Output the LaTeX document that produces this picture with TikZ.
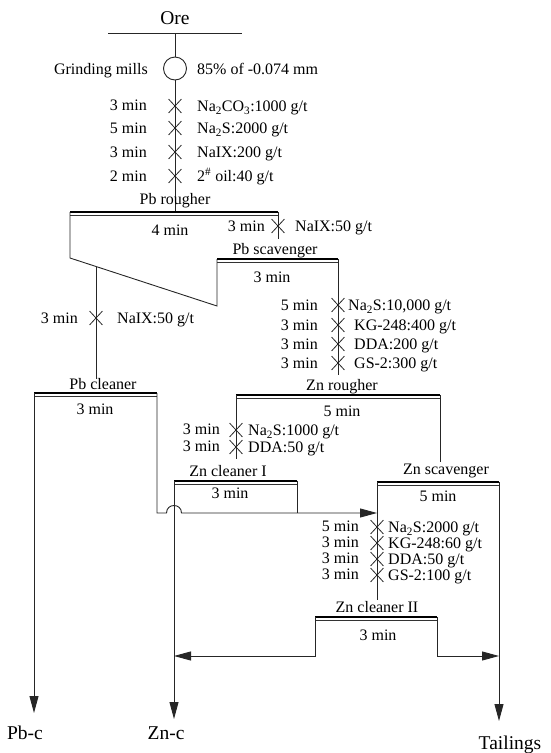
\documentclass[tikz,border=0pt]{standalone}
\usepackage{fontspec}
\setmainfont{Liberation Serif}
\usetikzlibrary{arrows.meta,shapes.misc}
\newcommand\subtwo{\textsubscript{2}}
\begin{document}
\begin{tikzpicture}[x=1pt,y=-1pt,
  t/.style={font=\fontsize{16}{18}\selectfont, inner sep=0pt, anchor=base},
  tl/.style={t, anchor=base west},
  tr/.style={t, anchor=base east},
  big/.style={font=\fontsize{19.5}{22}\selectfont, inner sep=0pt, anchor=base},
  ln/.style={line width=0.9pt, draw=black!85},
  arr/.style={ln, -{Triangle[length=17pt,width=9pt]}},
  xm/.style={cross out, draw=black!85, line width=0.8pt, minimum width=12pt, minimum height=13pt, inner sep=0pt},
  topline/.style={line width=1.8pt, draw=black},
  subline/.style={line width=0.6pt, draw=black!80}]

\useasboundingbox (0,0) rectangle (550,753);

% ---------- Ore and grinding ----------
\node[big] (ore) at (175,24) {Ore};
\coordinate (oreL) at (108,33);
\coordinate (oreR) at (242,33);
\coordinate (oreC) at (175,33);
\draw[ln] (oreL) -- (oreR);
\node[circle, ln, draw, minimum size=23pt, inner sep=0pt] (mill) at (175,68.5) {};
\draw[ln] (oreC) -- (mill.north);
\node[tr] (gm) at (148,74.5) {Grinding mills};
\node[tl] (fine) at (197,74.5) {85\% of -0.074 mm};

\coordinate (prT) at (175,212);
\draw[ln] (mill.south) -- (prT);
\node[xm] (x1) at (175,106) {};
\node[xm] (x2) at (175,128) {};
\node[xm] (x3) at (175,152) {};
\node[xm] (x4) at (175,176) {};
\node[tr] (m1) at (147,110.5) {3 min};
\node[tr] (m2) at (147,133.5) {5 min};
\node[tr] (m3) at (147,157.5) {3 min};
\node[tr] (m4) at (147,181.5) {2 min};
\node[tl] (r1) at (197,111.5) {Na\subtwo CO\textsubscript{3}:1000 g/t};
\node[tl] (r2) at (197,133.5) {Na\subtwo S:2000 g/t};
\node[tl] (r3) at (197,157.5) {NaIX:200 g/t};
\node[tl] (r4) at (197,181.5) {2\textsuperscript{\#} oil:40 g/t};

% ---------- Pb rougher ----------
\node[t] (prlab) at (175,204.5) {Pb rougher};
\coordinate (pr1) at (70,212);
\coordinate (pr2) at (278,212);
\draw[topline] (pr1) -- (pr2);
\draw[subline] ([yshift=-3.5pt]pr1) -- ([yshift=-3.5pt]pr2);
\coordinate (prBL) at (70,258);
\coordinate (psBL) at (217,306);
\coordinate (ps1) at (217,259);
\coordinate (ps2) at (338,259);
\draw[ln] (pr1) -- (prBL) -- (psBL) -- (ps1);
\node[t] (prt) at (170,235.5) {4 min};
\coordinate (prS) at (278,239);
\draw[ln] (pr2) -- (prS);
\node[xm] (x5) at (278,226) {};
\node[tr] (m5) at (265,231.5) {3 min};
\node[tl] (r5) at (295,231.5) {NaIX:50 g/t};

% ---------- Pb scavenger ----------
\node[t] (pslab) at (275,254.5) {Pb scavenger};
\draw[topline] (ps1) -- (ps2);
\draw[subline] ([yshift=-3.5pt]ps1) -- ([yshift=-3.5pt]ps2);
\node[t] (pst) at (272,282.5) {3 min};
\coordinate (psE) at (338,375);
\draw[ln] (ps2) -- (psE);
\node[xm] (x6) at (338,305) {};
\node[xm] (x7) at (338,325) {};
\node[xm] (x8) at (338,344) {};
\node[xm] (x9) at (338,363) {};
\node[tr] (m6) at (318,310.5) {5 min};
\node[tr] (m7) at (318,330.5) {3 min};
\node[tr] (m8) at (318,349.5) {3 min};
\node[tr] (m9) at (318,368.5) {3 min};
\node[tl] (r6) at (348,310.5) {Na\subtwo S:10,000 g/t};
\node[tl] (r7) at (354,330.5) {KG-248:400 g/t};
\node[tl] (r8) at (354,349.5) {DDA:200 g/t};
\node[tl] (r9) at (354,368.5) {GS-2:300 g/t};

% ---------- Pb rougher concentrate to Pb cleaner ----------
\coordinate (lt0) at (96,266.5);
\coordinate (pcT) at (96,379);
\draw[ln] (lt0) -- (pcT);
\node[xm] (x10) at (96,318) {};
\node[tr] (m10) at (78,323.5) {3 min};
\node[tl] (r10) at (117,323.5) {NaIX:50 g/t};

% ---------- Pb cleaner ----------
\node[t] (pclab) at (103,389.5) {Pb cleaner};
\coordinate (pc1) at (34,393);
\coordinate (pc2) at (157,393);
\draw[topline] (pc1) -- (pc2);
\draw[subline] ([yshift=-3.5pt]pc1) -- ([yshift=-3.5pt]pc2);
\node[t] (pct) at (95,414.5) {3 min};
\coordinate (pbc) at (34,713);
\draw[arr] (pc1) -- (pbc);
\node[big] (pbclab) at (25,739) {Pb-c};

% ---------- Zn rougher ----------
\node[t] (zrlab) at (342,390.5) {Zn rougher};
\coordinate (zr1) at (236,395);
\coordinate (zr2) at (440,395);
\draw[topline] (zr1) -- (zr2);
\draw[subline] ([yshift=-3.5pt]zr1) -- ([yshift=-3.5pt]zr2);
\node[t] (zrt) at (342,416.5) {5 min};
\coordinate (zrE1) at (236,459);
\coordinate (zrE2) at (440,462);
\draw[ln] (zr1) -- (zrE1);
\draw[ln] (zr2) -- (zrE2);
\node[xm] (x11) at (236,430) {};
\node[xm] (x12) at (236,447) {};
\node[tr] (m11) at (220,434.5) {3 min};
\node[tr] (m12) at (220,451.5) {3 min};
\node[tl] (r11) at (248,435.5) {Na\subtwo S:1000 g/t};
\node[tl] (r12) at (248,452.5) {DDA:50 g/t};

% ---------- Zn cleaner I ----------
\node[t] (zc1lab) at (228,476.5) {Zn cleaner I};
\coordinate (zc1) at (174,481);
\coordinate (zc2) at (297,481);
\draw[topline] (zc1) -- (zc2);
\draw[subline] ([yshift=-3.5pt]zc1) -- ([yshift=-3.5pt]zc2);
\node[t] (zct) at (230,498.5) {3 min};
\coordinate (zcE) at (297,513);
\draw[ln] (zc2) -- (zcE);
\coordinate (znc) at (174,719);
\draw[arr] (zc1) -- (znc);
\node[big] (znclab) at (166,739) {Zn-c};

% ---------- Zn scavenger ----------
\node[t] (zslab) at (446,474.5) {Zn scavenger};
\coordinate (zs1) at (377,482);
\coordinate (zs2) at (499,482);
\draw[topline] (zs1) -- (zs2);
\draw[subline] ([yshift=-3.5pt]zs1) -- ([yshift=-3.5pt]zs2);
\node[t] (zst) at (438,501.5) {5 min};
\coordinate (zsE) at (377,600);
\draw[ln] (zs1) -- (zsE);
\coordinate (tail) at (499,721);
\draw[arr] (zs2) -- (tail);
\node[big] (taillab) at (510,749) {Tailings};
\node[xm] (x13) at (377,527) {};
\node[xm] (x14) at (377,543) {};
\node[xm] (x15) at (377,559) {};
\node[xm] (x16) at (377,575) {};
\node[tr] (m13) at (359,531.5) {5 min};
\node[tr] (m14) at (359,547.5) {3 min};
\node[tr] (m15) at (359,563.5) {3 min};
\node[tr] (m16) at (359,579.5) {3 min};
\node[tl] (r13) at (388,532.5) {Na\subtwo S:2000 g/t};
\node[tl] (r14) at (388,548.5) {KG-248:60 g/t};
\node[tl] (r15) at (388,564.5) {DDA:50 g/t};
\node[tl] (r16) at (388,580.5) {GS-2:100 g/t};

% ---------- Pb cleaner tailing to Zn scavenger (with hop) ----------
\coordinate (pcR) at (157,513);
\coordinate (hopA) at (166.5,513);
\coordinate (hopB) at (181.5,513);
\coordinate (zsIn) at (377,513);
\draw[arr] (pc2) -- (pcR) -- (hopA) .. controls (166.5,503) and (181.5,503) .. (hopB) -- (zsIn);

% ---------- Zn cleaner II ----------
\node[t] (zc2lab) at (377,612.5) {Zn cleaner II};
\coordinate (zd1) at (315,617);
\coordinate (zd2) at (437,617);
\draw[topline] (zd1) -- (zd2);
\draw[subline] ([yshift=-3.5pt]zd1) -- ([yshift=-3.5pt]zd2);
\node[t] (zdt) at (378,640.5) {3 min};
\coordinate (zdL) at (315,656);
\coordinate (zdR) at (437,656);
\coordinate (zncIn) at (174,656);
\coordinate (tailIn) at (499,656);
\draw[arr] (zd1) -- (zdL) -- (zncIn);
\draw[arr] (zd2) -- (zdR) -- (tailIn);

\end{tikzpicture}
\end{document}
